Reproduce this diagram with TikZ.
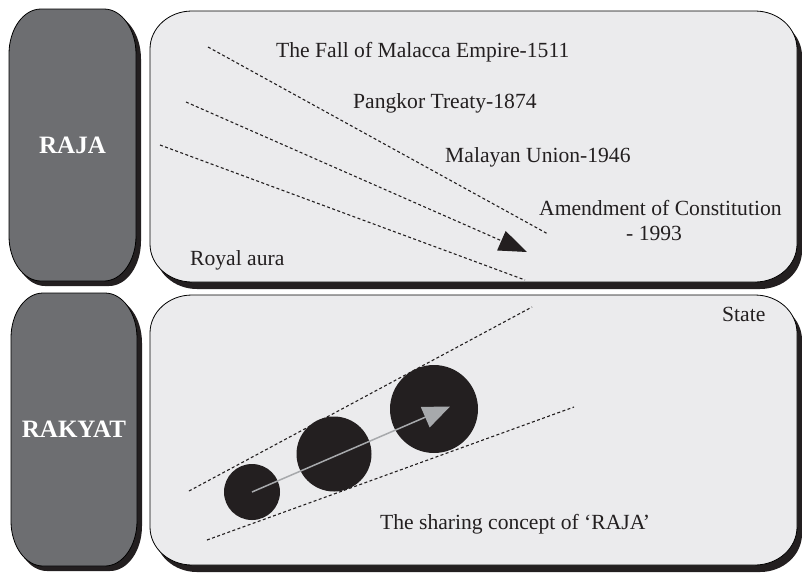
\documentclass[tikz,border=0pt]{standalone}
\usepackage{fontspec}
\setmainfont{Liberation Serif}
\usetikzlibrary{arrows.meta}
\definecolor{pillgray}{HTML}{6D6E71}
\definecolor{boxgray}{HTML}{EBEBED}
\definecolor{shadowblk}{HTML}{231F20}
\definecolor{arrowgray}{HTML}{A7A9AC}
% rounded rectangle with elliptical corners: x1,y1,x2,y2,rx,ry (y grows downward)
\newcommand{\erect}[6]{(#1,#2+#6) arc[start angle=180,end angle=270,x radius=#5,y radius=#6]
  -- (#3-#5,#2) arc[start angle=270,end angle=360,x radius=#5,y radius=#6]
  -- (#3,#4-#6) arc[start angle=0,end angle=90,x radius=#5,y radius=#6]
  -- (#1+#5,#4) arc[start angle=90,end angle=180,x radius=#5,y radius=#6] -- cycle}
\begin{document}
\begin{tikzpicture}[x=1pt,y=-1pt,
  pill/.style={fill=pillgray, draw=black, line width=0.8pt},
  pillshadow/.style={fill=shadowblk},
  panel/.style={fill=boxgray, draw=black, line width=0.8pt},
  panelshadow/.style={fill=shadowblk},
  dotline/.style={draw=shadowblk, line width=1.1pt, dash pattern=on 3pt off 2.4pt},
  lbl/.style={anchor=base west, inner sep=0pt, font=\fontsize{21.6}{26}\selectfont, text=shadowblk},
  pilllbl/.style={text=white, inner sep=0pt, font=\fontsize{25}{30}\selectfont\bfseries},
  disc/.style={circle, fill=shadowblk, inner sep=0pt}
]
\useasboundingbox (0,0) rectangle (802,574);
% left pills
\fill[pillshadow] \erect{13}{14}{141}{286}{32}{45};
\draw[pill] \erect{9}{9}{136}{281}{32}{45};
\node[pilllbl] (raja) at (72.5,145) {RAJA};
\fill[pillshadow] \erect{15}{298}{142}{571}{32}{45};
\draw[pill] \erect{11}{293}{137}{566}{32}{45};
\node[pilllbl] (rakyat) at (74,429.5) {RAKYAT};
% panels
\fill[panelshadow] \erect{155}{18}{802}{289}{42}{38};
\draw[panel] \erect{150}{11}{797}{282}{42}{38};
\fill[panelshadow] \erect{155}{302}{802}{572}{42}{38};
\draw[panel] \erect{150}{295}{797}{565}{42}{38};
% top panel
\coordinate (l1s) at (208,47);
\coordinate (l1e) at (548,234);
\coordinate (l2s) at (186,102);
\coordinate (l2e) at (527,252);
\coordinate (l3s) at (160,145);
\coordinate (l3e) at (525,280);
\draw[dotline] (l1s) -- (l1e);
\draw[dotline, -{Triangle[length=28pt,width=21pt]}] (l2s) -- (l2e);
\draw[dotline] (l3s) -- (l3e);
\node[lbl] (fall) at (276,57) {The Fall of Malacca Empire-1511};
\node[lbl] (pangkor) at (353,108) {Pangkor Treaty-1874};
\node[lbl] (union) at (445,162) {Malayan Union-1946};
\node[lbl] (amend) at (539,215) {Amendment of Constitution};
\node[lbl] (year) at (626,240) {- 1993};
\node[lbl] (aura) at (190,265) {Royal aura};
% bottom panel
\coordinate (u1) at (189,491);
\coordinate (u2) at (532,307);
\coordinate (d1) at (207,540);
\coordinate (d2) at (574,407);
\draw[dotline] (u1) -- (u2);
\draw[dotline] (d1) -- (d2);
\node[disc, minimum size=56pt] (c1) at (252,492) {};
\node[disc, minimum size=75pt] (c2) at (334,454) {};
\node[disc, minimum size=88pt] (c3) at (434,409) {};
\coordinate (gtip) at (450,406.5);
\draw[arrowgray, line width=1.5pt, -{Triangle[length=27pt,width=22pt]}] (c1.center) -- (gtip);
\node[lbl] (state) at (722,321) {State};
\node[lbl] (share) at (380,529) {The sharing concept of ‘RAJA’};
\end{tikzpicture}
\end{document}
